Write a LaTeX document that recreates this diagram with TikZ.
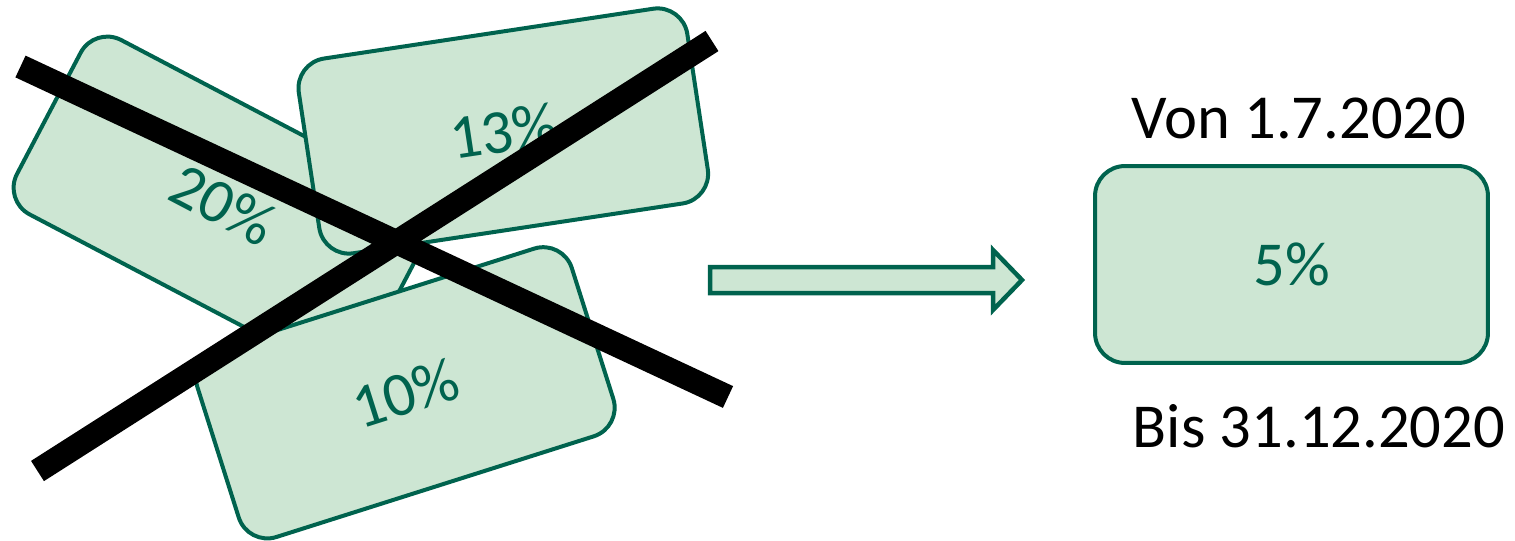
\documentclass[tikz,border=0pt]{standalone}
\usepackage{fontspec}
\setmainfont{Carlito}
\usetikzlibrary{positioning}
\definecolor{satzgruen}{RGB}{0,99,78}
\definecolor{satzfill}{RGB}{205,230,211}
\tikzset{
  satzkarte/.style={draw=satzgruen, fill=satzfill, line width=0.08cm, rounded corners=0.6cm,
    minimum width=7.86cm, minimum height=3.94cm, inner sep=0pt, text=satzgruen,
    font=\fontsize{35.6}{40}\selectfont},
  datum/.style={font=\fontsize{35.6}{40}\selectfont, inner sep=0pt, anchor=base},
  kreuz/.style={line width=0.48cm},
  pfeil/.style={draw=satzgruen, fill=satzfill, line width=0.09cm}
}

\begin{document}
\begin{tikzpicture}[x=0.02cm, y=-0.02cm]
  \useasboundingbox (0,0) rectangle (1515,541);
  % alte Saetze
  \node[satzkarte, rotate=-27.7] (card20) at (222.8,204.6) {20\%};
  \node[satzkarte, rotate=8.6]   (card13) at (503.3,131)   {13\%};
  \node[satzkarte, rotate=17.6]  (card10) at (405.3,392.8) {10\%};
  % durchgestrichen
  \coordinate (kreuzA1) at (20.5,66.5);
  \coordinate (kreuzA2) at (728,397);
  \coordinate (kreuzB1) at (37.5,471);
  \coordinate (kreuzB2) at (712,41);
  \draw[kreuz] (kreuzA1) -- (kreuzA2);
  \draw[kreuz] (kreuzB1) -- (kreuzB2);
  % Pfeil
  \draw[pfeil] (710,267) -- (993,267) -- (993,250) -- (1022,280) -- (993,310)
    -- (993,293) -- (710,293) -- cycle;
  % neuer Satz
  \node[satzkarte] (neu) at (1291.5,264.5) {5\%};
  \node[datum] (von) at (1299,138) {Von 1.7.2020};
  \node[datum] (bis) at (1319,447) {Bis 31.12.2020};
\end{tikzpicture}
\end{document}
